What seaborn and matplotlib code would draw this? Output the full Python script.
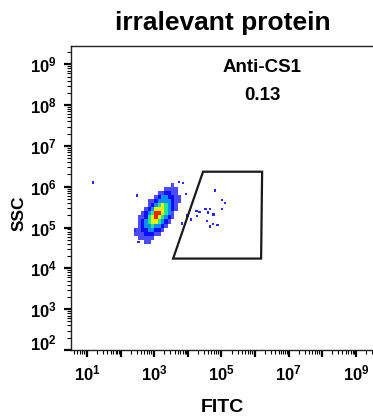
import numpy as np
import matplotlib
matplotlib.use("Agg")
import matplotlib.pyplot as plt
from matplotlib.colors import ListedColormap, BoundaryNorm
from matplotlib.patches import Polygon
from matplotlib.transforms import ScaledTranslation
from matplotlib.ticker import LogLocator, FixedLocator, FixedFormatter, NullFormatter
import seaborn as sns
import pandas as pd

# ---------------- data ----------------
title_text = "irralevant protein"
gate_name = "Anti-CS1"
gate_percent = "0.13"
x_label = "FITC"
y_label = "SSC"

# main population as a density grid (levels 0 = empty .. 6 = densest)
fitc_bin_edges = [251, 316, 398, 501, 631, 794, 1000, 1259, 1585, 1995,
                  2512, 3162, 3981, 5012, 6310, 7943]
ssc_bin_edges = [31623, 39811, 50119, 63096, 79433, 100000, 125893, 158489,
                 199526, 251189, 316228, 398107, 501187, 630957, 794328,
                 1000000, 1258925]
# rows listed from highest SSC bin (top) to lowest (bottom)
density_levels_top_down = [
    [0, 0, 0, 0, 0, 0, 0, 0, 0, 0, 0, 1, 0, 0, 0],
    [0, 0, 0, 0, 0, 0, 0, 0, 0, 1, 1, 1, 1, 0, 0],
    [0, 0, 0, 0, 0, 0, 0, 1, 1, 2, 2, 1, 1, 0, 0],
    [0, 0, 0, 0, 0, 0, 1, 2, 3, 3, 2, 2, 1, 1, 0],
    [0, 0, 0, 0, 1, 1, 2, 3, 3, 3, 3, 2, 1, 1, 0],
    [0, 0, 0, 0, 1, 2, 3, 4, 5, 4, 3, 2, 1, 0, 0],
    [0, 0, 0, 1, 2, 3, 5, 5, 5, 4, 3, 2, 1, 0, 0],
    [0, 0, 1, 2, 3, 4, 6, 6, 5, 4, 3, 1, 0, 0, 0],
    [0, 1, 1, 2, 4, 5, 6, 5, 4, 3, 2, 1, 0, 0, 0],
    [0, 1, 2, 3, 4, 5, 5, 4, 3, 2, 1, 0, 0, 0, 0],
    [0, 1, 2, 3, 3, 4, 3, 3, 2, 1, 0, 0, 0, 0, 0],
    [1, 1, 2, 2, 3, 3, 2, 2, 1, 0, 0, 0, 0, 0, 0],
    [1, 1, 1, 2, 2, 2, 1, 1, 0, 0, 0, 0, 0, 0, 0],
    [0, 1, 1, 1, 1, 1, 0, 0, 0, 0, 0, 0, 0, 0, 0],
    [0, 0, 0, 1, 1, 0, 0, 0, 0, 0, 0, 0, 0, 0, 0],
    [0, 0, 0, 0, 0, 0, 0, 0, 0, 0, 0, 0, 0, 0, 0],
]

# individual sparse events (gated events and outliers)
event_fitc = [64600, 102000, 129000, 102000, 18200, 21900, 18600, 33100,
              45700, 38900, 57500, 36300, 55000, 45700, 75900,
              5500, 7080, 8910, 9770, 6610, 12300, 302, 269, 339, 15]
event_ssc = [813000, 468000, 407000, 282000, 251000, 240000, 195000, 288000,
             288000, 234000, 209000, 145000, 123000, 107000, 117000,
             1290000, 1230000, 676000, 200000, 126000, 158000, 617000,
             85100, 44700, 1260000]

# gate polygon vertices (FITC, SSC)
gate_fitc = [28200, 1620000, 1510000, 3630]
gate_ssc = [2340000, 2340000, 17400, 17400]

x_tick_values = [1e1, 1e2, 1e3, 1e4, 1e5, 1e6, 1e7, 1e8, 1e9]
x_tick_labels = [r"$10^{1}$", "", r"$10^{3}$", "", r"$10^{5}$", "",
                 r"$10^{7}$", "", r"$10^{9}$"]
y_tick_values = [1e2, 1e3, 1e4, 1e5, 1e6, 1e7, 1e8, 1e9]
y_tick_labels = [r"$10^{2}$", r"$10^{3}$", r"$10^{4}$", r"$10^{5}$",
                 r"$10^{6}$", r"$10^{7}$", r"$10^{8}$", r"$10^{9}$"]

# ---------------- style ----------------
sns.set_style("ticks")
plt.rcParams["font.family"] = ["Liberation Sans", "DejaVu Sans"]
plt.rcParams["font.weight"] = "bold"
plt.rcParams["text.color"] = "black"
plt.rcParams["axes.labelcolor"] = "black"
plt.rcParams["xtick.color"] = "black"
plt.rcParams["ytick.color"] = "black"
plt.rcParams["mathtext.fontset"] = "custom"
plt.rcParams["mathtext.rm"] = "Liberation Sans:bold"
plt.rcParams["mathtext.it"] = "Liberation Sans:bold"
plt.rcParams["mathtext.bf"] = "Liberation Sans:bold"

fig = plt.figure(figsize=(3.73, 4.19), dpi=100)
ax = fig.add_axes([71 / 373, 1 - 350 / 419, 1 - 71 / 373, (350 - 46) / 419])
ax.set_xscale("log")
ax.set_yscale("log")

level_colors = ["#4a4aff", "#0c0cff", "#0a8cff", "#20e890", "#e8f400", "#ff2200"]
cmap = ListedColormap(level_colors)
norm = BoundaryNorm([0.5, 1.5, 2.5, 3.5, 4.5, 5.5, 6.5], cmap.N)
levels = np.array(density_levels_top_down[::-1], dtype=float)
levels = np.ma.masked_where(levels == 0, levels)
ax.pcolormesh(fitc_bin_edges, ssc_bin_edges, levels, cmap=cmap, norm=norm,
              shading="flat", linewidth=0, antialiased=False, zorder=2)

events = pd.DataFrame({"FITC": event_fitc, "SSC": event_ssc})
sns.scatterplot(data=events, x="FITC", y="SSC", ax=ax, marker="s", s=3,
                color="#2a2aff", edgecolor="none", linewidth=0, zorder=3)

gate = Polygon(list(zip(gate_fitc, gate_ssc)), closed=True, fill=False,
               edgecolor="#1a1a1a", linewidth=1.6, zorder=4)
ax.add_patch(gate)

ax.set_xlim(10 ** 0.52, 10 ** 9.51)
ax.set_ylim(1e2, 10 ** 9.45)

ax.xaxis.set_major_locator(FixedLocator(x_tick_values))
ax.xaxis.set_major_formatter(FixedFormatter(x_tick_labels))
ax.yaxis.set_major_locator(FixedLocator(y_tick_values))
ax.yaxis.set_major_formatter(FixedFormatter(y_tick_labels))
ax.xaxis.set_minor_locator(LogLocator(base=10, subs=range(2, 10), numticks=30))
ax.yaxis.set_minor_locator(LogLocator(base=10, subs=range(2, 10), numticks=30))
ax.xaxis.set_minor_formatter(NullFormatter())
ax.yaxis.set_minor_formatter(NullFormatter())

ax.tick_params(which="major", length=5, width=1.6, color="black",
               labelcolor="black", labelsize=12, pad=5)
ax.tick_params(which="minor", length=3, width=0.8, color="black")
ax.set_xlabel("")
ax.set_ylabel("")

# nudge the lowest y label up, as in the reference
first_y = ax.yaxis.get_major_ticks()[0].label1
first_y.set_transform(first_y.get_transform()
                      + ScaledTranslation(0, 6 / 72, fig.dpi_scale_trans))

for side in ["left", "bottom", "top"]:
    ax.spines[side].set_color("#222222")
    ax.spines[side].set_linewidth(1.0)
ax.spines["right"].set_visible(False)

fig.text(223 / 373, 1 - 23 / 419, title_text, ha="center", va="center",
         fontsize=19, fontweight="bold", color="black")
fig.text(262 / 373, 1 - 68 / 419, gate_name, ha="center", va="center",
         fontsize=13.5, fontweight="bold", color="black")
fig.text(262 / 373, 1 - 95 / 419, gate_percent, ha="center", va="center",
         fontsize=13.5, fontweight="bold", color="black")
fig.text(222 / 373, 1 - 407 / 419, x_label, ha="center", va="center",
         fontsize=14, fontweight="bold", color="black")
fig.text(19 / 373, 1 - 213 / 419, y_label, ha="center", va="center",
         fontsize=12.5, fontweight="bold", rotation=90, color="black")

fig.savefig("out.png", dpi=100, facecolor="white")
